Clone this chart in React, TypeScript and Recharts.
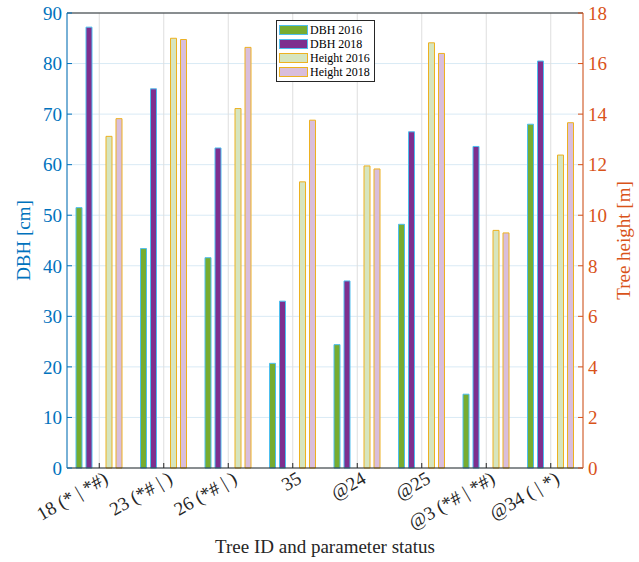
import { BarChart, Bar, XAxis, YAxis, CartesianGrid, Legend } from "recharts";

// Tree IDs with their parameter status flags
const treeIds = [
  "18 (* | *#)",
  "23 (*# | )",
  "26 (*# | )",
  "35",
  "@24",
  "@25",
  "@3 (*# | *#)",
  "@34 ( | *)",
];

// diameter at breast height, cm
const dbh2016 = [51.5, 43.4, 41.6, 20.7, 24.4, 48.2, 14.6, 68.0];
const dbh2018 = [87.2, 75.0, 63.3, 33.0, 37.0, 66.5, 63.6, 80.5];

// tree height, m
const height2016 = [13.12, 17.0, 14.22, 11.32, 11.95, 16.82, 9.4, 12.38];
const height2018 = [13.82, 16.95, 16.64, 13.76, 11.83, 16.4, 9.3, 13.66];

const dbhTicks = [0, 10, 20, 30, 40, 50, 60, 70, 80, 90];
const heightTicks = [0, 2, 4, 6, 8, 10, 12, 14, 16, 18];

const data = treeIds.map((id, i) => ({
  id,
  dbh2016: dbh2016[i],
  dbh2018: dbh2018[i],
  height2016: height2016[i],
  height2018: height2018[i],
}));

const FONT = "'Liberation Serif', 'Times New Roman', serif";
const DARK = "#262626";
const BLUE = "#0072BD";
const ORANGE = "#D95319";

const SERIES = [
  { key: "dbh2016", name: "DBH 2016", axis: "left", fill: "#77AC30", stroke: "#4DBEEE" },
  { key: "dbh2018", name: "DBH 2018", axis: "left", fill: "#7E2F8E", stroke: "#4DBEEE" },
  { key: "height2016", name: "Height 2016", axis: "right", fill: "#d6e5bf", stroke: "#EDB120" },
  { key: "height2018", name: "Height 2018", axis: "right", fill: "#d9bedc", stroke: "#EDB120" },
];

function TreeTick({ x, y, payload }: any) {
  const ax = x + 10;
  return (
    <text
      x={ax}
      y={y}
      textAnchor="end"
      transform={`rotate(-30, ${ax}, ${y})`}
      fill={DARK}
      fontFamily={FONT}
      fontSize={19}
    >
      {payload.value}
    </text>
  );
}

function LeftTitle({ viewBox }: any) {
  const x = viewBox.x + 23;
  const y = viewBox.y + viewBox.height / 2;
  return (
    <text x={x} y={y} transform={`rotate(-90, ${x}, ${y})`} textAnchor="middle" dominantBaseline="central" fill={BLUE} fontFamily={FONT} fontSize={19}>
      DBH [cm]
    </text>
  );
}

function RightTitle({ viewBox }: any) {
  const x = viewBox.x + 40;
  const y = viewBox.y + viewBox.height / 2;
  return (
    <text x={x} y={y} transform={`rotate(-90, ${x}, ${y})`} textAnchor="middle" dominantBaseline="central" fill={ORANGE} fontFamily={FONT} fontSize={19}>
      Tree height [m]
    </text>
  );
}

function BottomTitle({ viewBox }: any) {
  return (
    <text x={viewBox.x + viewBox.width / 2} y={viewBox.y + 85} textAnchor="middle" fill={DARK} fontFamily={FONT} fontSize={19}>
      Tree ID and parameter status
    </text>
  );
}

function LegendBox() {
  return (
    <div
      style={{
        border: `1px solid ${DARK}`,
        background: "#fff",
        padding: "2px 4px 2px 2px",
        fontFamily: FONT,
        fontSize: 12,
        color: "#000",
      }}
    >
      {SERIES.map((s) => (
        <div key={s.key} style={{ display: "flex", alignItems: "center", height: 14 }}>
          <span
            style={{
              display: "inline-block",
              width: 27,
              height: 8,
              background: s.fill,
              border: `1.5px solid ${s.stroke}`,
              marginRight: 2,
            }}
          />
          {s.name}
        </div>
      ))}
    </div>
  );
}

export default function App() {
  return (
    <div style={{ position: "absolute", left: 0, top: 0, background: "#fff" }}>
      <BarChart
        width={639}
        height={562}
        data={data}
        margin={{ top: 12, right: 0, bottom: 0, left: 0 }}
        barSize={6}
        barGap={4}
      >
        <CartesianGrid yAxisId="left" vertical={false} stroke="#d9eaf5" />
        <CartesianGrid yAxisId="left" horizontal={false} stroke="#dedede" />
        <XAxis
          dataKey="id"
          interval={0}
          height={94}
          stroke={DARK}
          tickSize={-5}
          tickMargin={19}
          tick={TreeTick}
          label={BottomTitle}
        />
        <XAxis
          xAxisId="top"
          orientation="top"
          dataKey="id"
          height={1}
          stroke={DARK}
          tickSize={-5}
          tick={false}
        />
        <YAxis
          yAxisId="left"
          width={67}
          domain={[0, 90]}
          ticks={dbhTicks}
          interval={0}
          stroke={BLUE}
          tickSize={-5}
          tickMargin={10}
          tick={{ fill: BLUE, fontSize: 19, fontFamily: FONT }}
          label={LeftTitle}
        />
        <YAxis
          yAxisId="right"
          orientation="right"
          width={56}
          domain={[0, 18]}
          ticks={heightTicks}
          interval={0}
          stroke={ORANGE}
          tickSize={-5}
          tickMargin={10}
          tick={{ fill: ORANGE, fontSize: 19, fontFamily: FONT, textAnchor: "start" }}
          label={RightTitle}
        />
        {SERIES.slice(0, 2).map((s) => (
          <Bar key={s.key} dataKey={s.key} name={s.name} yAxisId={s.axis} fill={s.fill} stroke={s.stroke} strokeWidth={1} isAnimationActive={false} />
        ))}
        {/* empty slot between the DBH pair and the height pair */}
        <Bar dataKey="gap" yAxisId="left" fill="none" legendType="none" isAnimationActive={false} />
        {SERIES.slice(2).map((s) => (
          <Bar key={s.key} dataKey={s.key} name={s.name} yAxisId={s.axis} fill={s.fill} stroke={s.stroke} strokeWidth={1} isAnimationActive={false} />
        ))}
        <Legend
          layout="vertical"
          align="center"
          verticalAlign="middle"
          wrapperStyle={{ left: 276, top: 20, width: "auto" }}
          content={LegendBox}
        />
      </BarChart>
    </div>
  );
}
